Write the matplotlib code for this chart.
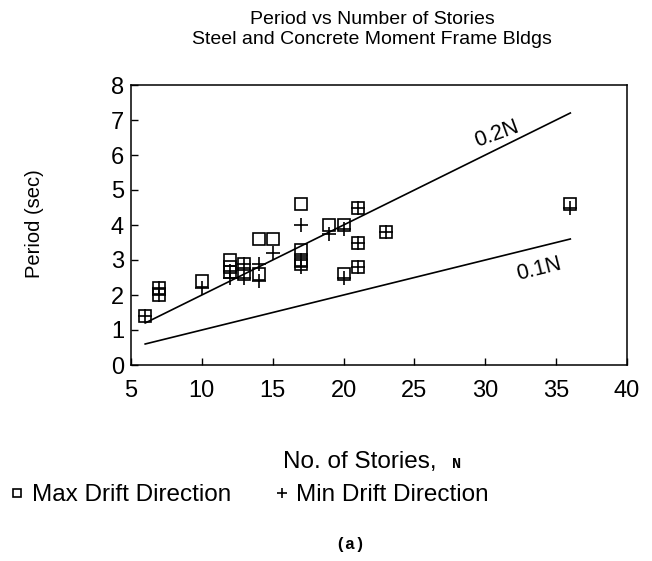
import matplotlib
matplotlib.use("Agg")
import matplotlib.pyplot as plt
import numpy as np

plt.rcParams['font.family'] = ['Liberation Sans', 'DejaVu Sans']

# Data
max_x = [6, 7, 7, 10, 12, 12, 12, 13, 13, 14, 14, 15, 17, 17, 17, 17, 19, 20, 20, 21, 21, 21, 23, 36]
max_y = [1.4, 2.2, 2.0, 2.4, 3.0, 2.8, 2.65, 2.9, 2.6, 2.6, 3.6, 3.6, 4.6, 3.3, 3.0, 2.9, 4.0, 4.0, 2.6, 4.5, 3.5, 2.8, 3.8, 4.6]
min_x = [6, 7, 7, 10, 12, 12, 13, 13, 14, 14, 15, 17, 17, 17, 19, 20, 20, 21, 21, 21, 23, 36]
min_y = [1.4, 2.2, 2.0, 2.2, 2.7, 2.5, 2.9, 2.5, 2.9, 2.4, 3.2, 4.0, 3.0, 2.8, 3.75, 3.9, 2.5, 4.5, 3.5, 2.8, 3.8, 4.5]
line_n = [6, 36]
coef_hi = 0.2
coef_lo = 0.1
xticks = [5, 10, 15, 20, 25, 30, 35, 40]
yticks = [0, 1, 2, 3, 4, 5, 6, 7, 8]

W, H = 652, 561
fig = plt.figure(figsize=(W / 100, H / 100), dpi=100)
ax = fig.add_axes([131 / W, 1 - 365 / H, (627 - 131) / W, (365 - 85) / H])

ln = np.array(line_n, dtype=float)
ax.plot(ln, coef_hi * ln, color='black', lw=1.2)
ax.plot(ln, coef_lo * ln, color='black', lw=1.2)

sq, = ax.plot(max_x, max_y, linestyle='none', marker='s', ms=8.5, mfc='none',
              mec='black', mew=1.2)
pl, = ax.plot(min_x, min_y, linestyle='none', marker='+', ms=10, color='black', mew=1.2)

ax.text(30.8, 6.6, '0.2N', fontsize=15.5, rotation=20, ha='center', va='center')
ax.text(33.8, 2.75, '0.1N', fontsize=15.5, rotation=14, ha='center', va='center')

ax.set_xlim(5, 40)
ax.set_ylim(0, 8)
ax.set_xticks(xticks)
ax.set_yticks(yticks)
ax.tick_params(axis='x', direction='in', length=5, width=1, pad=11, labelsize=17, top=False)
ax.tick_params(axis='y', direction='in', length=5, width=1, pad=5, labelsize=17, right=False)
for s in ax.spines.values():
    s.set_linewidth(1.1)

fig.text(372 / W, 1 - 20 / H, 'Period vs Number of Stories', ha='center', va='center', fontsize=14)
fig.text(372 / W, 1 - 40 / H, 'Steel and Concrete Moment Frame Bldgs', ha='center', va='center', fontsize=14)

fig.text(34 / W, 1 - 224 / H, 'Period (sec)', rotation=90, ha='center', va='center', fontsize=14.5)
fig.text(283 / W, 1 - 462 / H, 'No. of Stories,', ha='left', va='center', fontsize=17.5)
fig.text(452 / W, 1 - 464 / H, 'N', ha='left', va='center', fontsize=11,
         family=['Liberation Mono', 'DejaVu Sans Mono'], weight='bold')

leg = fig.legend([sq, pl], ['Max Drift Direction', 'Min Drift Direction'],
                 loc='center left', bbox_to_anchor=(0 / W, 1 - 495 / H), ncol=2,
                 frameon=False, fontsize=17.5, handlelength=0.6, handletextpad=0.3,
                 columnspacing=1.8, borderaxespad=0, markerscale=0.75)

fig.text(350 / W, 1 - 545 / H, '(a)', ha='center', va='center', fontsize=12,
         family=['Liberation Mono', 'DejaVu Sans Mono'], weight='bold')

fig.savefig('out.png', dpi=100)
